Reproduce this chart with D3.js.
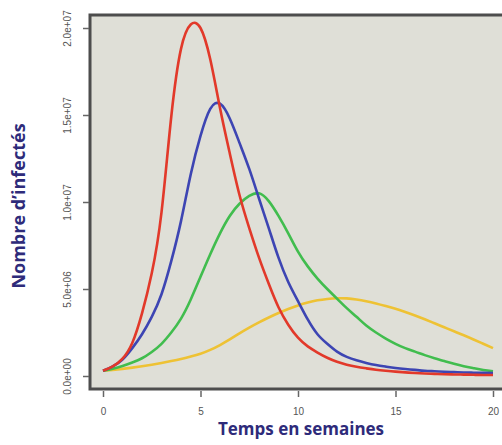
<!DOCTYPE html>
<html>
<head>
<meta charset="utf-8">
<script src="https://cdn.jsdelivr.net/npm/d3@7"></script>
<style>
  body { margin: 0; background: #fff; }
  svg { display: block; }
</style>
</head>
<body>
<div id="chart"></div>
<script>
// semaines (abscisse)
const weeks = [0, 0.5, 1, 1.5, 2, 2.5, 3, 3.5, 4, 4.5, 5, 5.5, 6, 6.5, 7, 7.5, 8, 8.5, 9, 9.5,
  10, 10.5, 11, 11.5, 12, 12.5, 13, 13.5, 14, 14.5, 15, 15.5, 16, 16.5, 17, 17.5, 18, 18.5, 19, 19.5, 20];

// nombre d'infectés, en millions
const redSeries = [0.3, 0.55, 1.0, 1.9, 3.6, 5.9, 9.4, 14.9, 18.8, 20.2, 20.0, 18.2, 15.4, 12.8, 10.4, 8.5,
  6.8, 5.3, 3.95, 2.95, 2.2, 1.7, 1.35, 1.05, 0.82, 0.65, 0.53, 0.44, 0.36, 0.3, 0.25, 0.21, 0.17, 0.14,
  0.12, 0.1, 0.09, 0.08, 0.07, 0.06, 0.06];
const blueSeries = [0.3, 0.55, 0.95, 1.6, 2.4, 3.4, 4.7, 6.6, 8.9, 11.6, 13.8, 15.35, 15.65, 14.8, 13.4, 11.9,
  10.2, 8.5, 6.8, 5.4, 4.3, 3.25, 2.4, 1.85, 1.4, 1.1, 0.9, 0.75, 0.63, 0.54, 0.46, 0.4, 0.35, 0.3,
  0.27, 0.24, 0.22, 0.2, 0.19, 0.18, 0.17];
const greenSeries = [0.3, 0.42, 0.58, 0.78, 1.02, 1.38, 1.85, 2.5, 3.3, 4.4, 5.7, 7.0, 8.2, 9.2, 9.9, 10.35,
  10.5, 10.05, 9.2, 8.2, 7.15, 6.3, 5.6, 5.0, 4.45, 3.9, 3.4, 2.9, 2.5, 2.15, 1.85, 1.6, 1.4, 1.2,
  1.02, 0.86, 0.7, 0.56, 0.45, 0.35, 0.27];
const yellowSeries = [0.3, 0.35, 0.41, 0.48, 0.56, 0.65, 0.75, 0.86, 0.98, 1.12, 1.28, 1.5, 1.78, 2.1, 2.45, 2.78,
  3.08, 3.36, 3.62, 3.85, 4.05, 4.22, 4.35, 4.43, 4.47, 4.46, 4.4, 4.3, 4.17, 4.02, 3.86, 3.68, 3.48, 3.26,
  3.03, 2.8, 2.57, 2.34, 2.1, 1.85, 1.6];

const xTicks = [0, 5, 10, 15, 20];
const yTicks = [0, 5, 10, 15, 20];
const yTickLabels = ['0.0e+00', '5.0e+06', '1.0e+07', '1.5e+07', '2.0e+07'];

const series = [
  { name: 'jaune', values: yellowSeries, color: '#eec234' },
  { name: 'vert', values: greenSeries, color: '#41bd4e' },
  { name: 'bleu', values: blueSeries, color: '#3d45b3' },
  { name: 'rouge', values: redSeries, color: '#e2392a' }
];

const width = 502, height = 445;

const svg = d3.select('#chart').append('svg')
  .attr('width', width)
  .attr('height', height);

const x = d3.scaleLinear().domain([0, 20]).range([103, 493]);
const y = d3.scaleLinear().domain([0, 20]).range([376, 28]);

// fond du graphique
svg.append('rect')
  .attr('x', 90)
  .attr('y', 15)
  .attr('width', 430)
  .attr('height', 374)
  .attr('fill', '#dfdfd7')
  .attr('stroke', '#4d4d4d')
  .attr('stroke-width', 3);

const line = d3.line()
  .x((d, i) => x(weeks[i]))
  .y(d => y(d))
  .curve(d3.curveNatural);

svg.append('g')
  .selectAll('path')
  .data(series)
  .join('path')
  .attr('fill', 'none')
  .attr('stroke', d => d.color)
  .attr('stroke-width', 2.6)
  .attr('d', d => line(d.values));

// axes
const xAxis = svg.append('g')
  .attr('transform', 'translate(0,391)')
  .call(d3.axisBottom(x).tickValues(xTicks).tickSize(6).tickPadding(11).tickFormat(d3.format('d')));
xAxis.select('.domain').remove();
xAxis.selectAll('line').attr('stroke', '#666').attr('stroke-width', 1.5);
xAxis.selectAll('text')
  .attr('fill', '#555')
  .attr('font-family', 'Liberation Sans, Arial, sans-serif')
  .attr('font-size', 10);

const yAxis = svg.append('g')
  .attr('transform', 'translate(89,0)')
  .call(d3.axisLeft(y).tickValues(yTicks).tickSize(6).tickFormat((d, i) => yTickLabels[i]));
yAxis.select('.domain').remove();
yAxis.selectAll('line').attr('stroke', '#666').attr('stroke-width', 1.5);
yAxis.selectAll('text')
  .attr('fill', '#555')
  .attr('font-family', 'Liberation Sans, Arial, sans-serif')
  .attr('font-size', 10)
  .attr('text-anchor', 'middle')
  .attr('dy', null)
  .attr('x', null)
  .attr('transform', 'translate(-22,0) rotate(-90)')
  .attr('dominant-baseline', 'central');

// titres
svg.append('text')
  .attr('x', 301)
  .attr('y', 435)
  .attr('text-anchor', 'middle')
  .attr('font-family', 'Open Sans, sans-serif')
  .attr('font-weight', 'bold')
  .attr('font-size', 17)
  .attr('fill', '#2e2b7a')
  .text('Temps en semaines');

svg.append('text')
  .attr('transform', 'translate(25,206) rotate(-90)')
  .attr('text-anchor', 'middle')
  .attr('font-family', 'Open Sans, sans-serif')
  .attr('font-weight', 'bold')
  .attr('font-size', 18)
  .attr('fill', '#2e2b7a')
  .text('Nombre d\u2019infectés');
</script>
</body>
</html>
